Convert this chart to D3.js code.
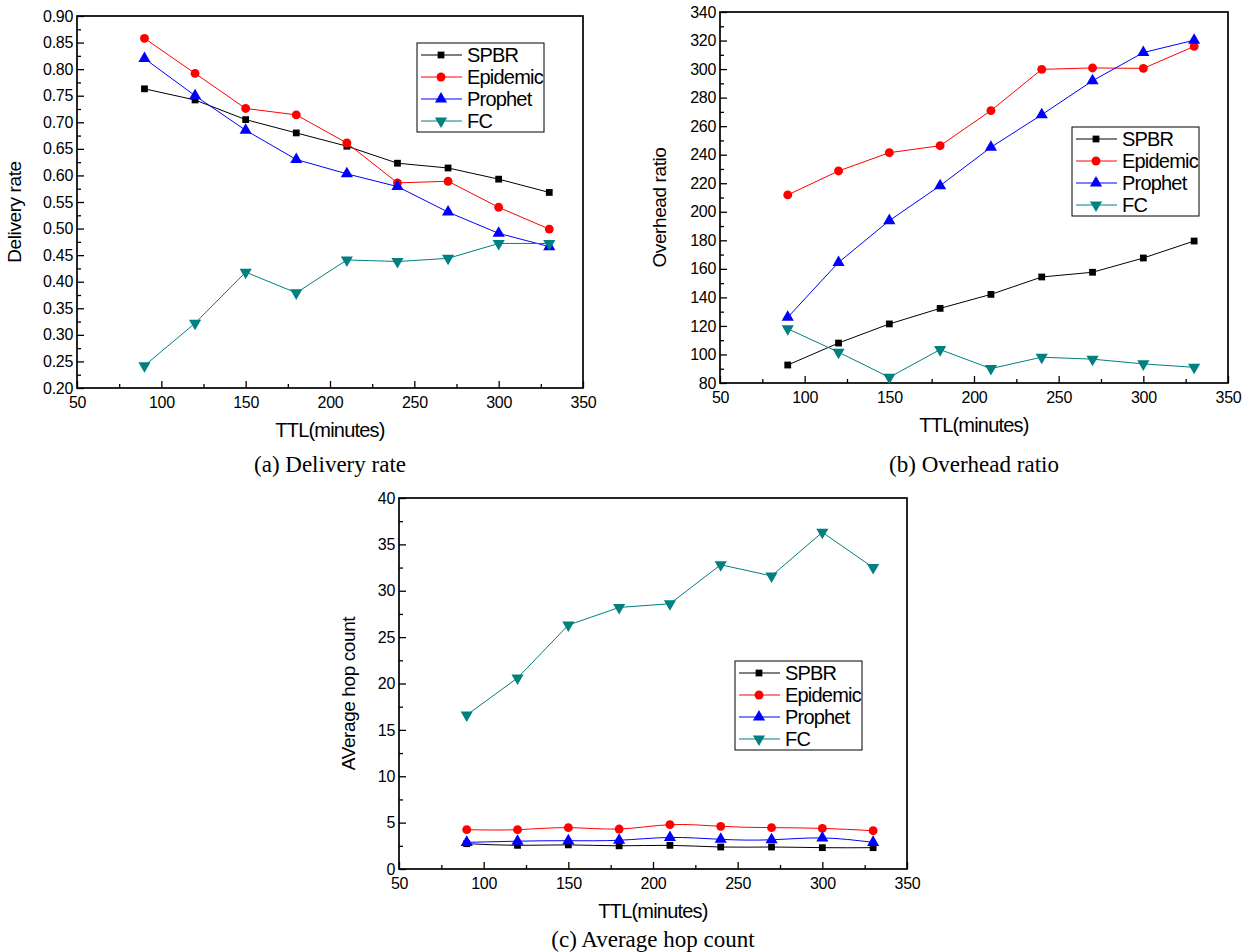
<!DOCTYPE html>
<html>
<head>
<meta charset="utf-8">
<script src="https://cdn.jsdelivr.net/npm/d3@7"></script>
<style>
  body { margin: 0; background: #fff; }
  svg { display: block; }
</style>
</head>
<body>
<script>
// Data
const ttl = [90, 120, 150, 180, 210, 240, 270, 300, 330];
const seriesNames = ["SPBR", "Epidemic", "Prophet", "FC"];
const xTicks = [50, 100, 150, 200, 250, 300, 350];

// (a) delivery rate
const deliverySPBR = [0.763, 0.742, 0.705, 0.680, 0.655, 0.623, 0.614, 0.593, 0.568];
const deliveryEpidemic = [0.858, 0.792, 0.726, 0.714, 0.661, 0.586, 0.589, 0.540, 0.499];
const deliveryProphet = [0.820, 0.750, 0.685, 0.630, 0.603, 0.579, 0.531, 0.491, 0.466];
const deliveryFC = [0.242, 0.322, 0.418, 0.379, 0.441, 0.438, 0.444, 0.472, 0.472];
const deliveryTicks = [0.20, 0.25, 0.30, 0.35, 0.40, 0.45, 0.50, 0.55, 0.60, 0.65, 0.70, 0.75, 0.80, 0.85, 0.90];

// (b) overhead ratio
const overheadSPBR = [92.6, 108, 121.4, 132.3, 142.1, 154.3, 157.6, 167.6, 179.5];
const overheadEpidemic = [211.8, 228.6, 241.4, 246.3, 270.9, 299.8, 300.8, 300.5, 315.9];
const overheadProphet = [126, 164.5, 193.8, 218.3, 245.2, 268, 291.8, 311.6, 320.2];
const overheadFC = [118, 101.6, 84, 103.4, 90.1, 98.1, 96.7, 93.4, 91];
const overheadTicks = [80, 100, 120, 140, 160, 180, 200, 220, 240, 260, 280, 300, 320, 340];

// (c) average hop count
const hopSPBR = [2.73, 2.55, 2.6, 2.5, 2.55, 2.37, 2.37, 2.3, 2.3];
const hopEpidemic = [4.24, 4.24, 4.46, 4.31, 4.78, 4.6, 4.46, 4.38, 4.13];
const hopProphet = [2.87, 3.0, 3.05, 3.1, 3.4, 3.2, 3.15, 3.35, 2.87];
const hopFC = [16.6, 20.6, 26.3, 28.2, 28.6, 32.8, 31.6, 36.3, 32.5];
const hopTicks = [0, 5, 10, 15, 20, 25, 30, 35, 40];

const colors = ["#000000", "#ff0000", "#0000ff", "#008080"];
const symbols = [d3.symbolSquare, d3.symbolCircle, d3.symbolTriangle, d3.symbolTriangle];
const symbolSizes = [46, 62, 64, 64];
const symbolRot = [0, 0, 0, 180];

const W = 1245, H = 952;
const svg = d3.select("body").append("svg").attr("width", W).attr("height", H);

const font = "Arial, 'Liberation Sans', sans-serif";
const serif = "'Times New Roman', 'Liberation Serif', serif";

function marker(g, i, x, y) {
  g.append("path")
    .attr("d", d3.symbol().type(symbols[i]).size(symbolSizes[i])())
    .attr("transform", `translate(${x},${y}) rotate(${symbolRot[i]})`)
    .attr("fill", colors[i]);
}

function drawPanel(p) {
  const g = svg.append("g");
  const x = d3.scaleLinear().domain([50, 350]).range([p.left, p.right]);
  const y = d3.scaleLinear().domain(p.yDomain).range([p.bottom, p.top]);

  // ticks point inward, minor ticks halfway between labels
  const xMinor = d3.range(75, 350, 50);
  const yStep = p.yTicks[1] - p.yTicks[0];
  const yMinor = p.yTicks.slice(0, -1).map(v => v + yStep / 2);

  const xAxis = g.append("g").attr("transform", `translate(0,${p.bottom})`)
    .call(d3.axisBottom(x).tickValues(xTicks).tickSize(-7).tickFormat(d3.format("d")));
  g.append("g").attr("transform", `translate(0,${p.bottom})`)
    .call(d3.axisBottom(x).tickValues(xMinor).tickSize(-4).tickFormat(""));
  const yAxis = g.append("g").attr("transform", `translate(${p.left},0)`)
    .call(d3.axisLeft(y).tickValues(p.yTicks).tickSize(-7).tickFormat(p.yFormat));
  g.append("g").attr("transform", `translate(${p.left},0)`)
    .call(d3.axisLeft(y).tickValues(yMinor).tickSize(-4).tickFormat(""));

  g.selectAll(".domain").remove();
  g.selectAll(".tick line").attr("stroke", "#000").attr("stroke-width", 1.3);
  xAxis.selectAll("text").attr("y", 9).attr("font-size", 16).attr("font-family", font)
    .attr("letter-spacing", -0.3).attr("fill", "#000");
  yAxis.selectAll("text").attr("x", -4).attr("font-size", 16).attr("font-family", font)
    .attr("letter-spacing", -0.3).attr("fill", "#000");

  // frame
  g.append("rect")
    .attr("x", p.left).attr("y", p.top)
    .attr("width", p.right - p.left).attr("height", p.bottom - p.top)
    .attr("fill", "none").attr("stroke", "#000").attr("stroke-width", 1.7);

  // series
  p.series.forEach((vals, i) => {
    const pts = ttl.map((t, k) => [t, vals[k]]);
    const curve = p.smooth && i < 3 ? d3.curveNatural : d3.curveLinear;
    g.append("path")
      .datum(pts)
      .attr("d", d3.line().x(d => x(d[0])).y(d => y(d[1])).curve(curve))
      .attr("fill", "none").attr("stroke", colors[i]).attr("stroke-width", 1);
    pts.forEach(d => marker(g, i, x(d[0]), y(d[1])));
  });

  // axis titles
  g.append("text")
    .attr("x", (p.left + p.right) / 2).attr("y", p.bottom + 49)
    .attr("text-anchor", "middle").attr("font-size", 20).attr("font-family", font)
    .attr("letter-spacing", -0.8)
    .text("TTL(minutes)");
  g.append("text")
    .attr("transform", `translate(${p.left - p.yTitleOff},${(p.top + p.bottom) / 2 + 10}) rotate(-90)`)
    .attr("text-anchor", "middle").attr("font-size", 19).attr("font-family", font)
    .attr("letter-spacing", -0.4)
    .text(p.yTitle);

  // caption
  g.append("text")
    .attr("x", (p.left + p.right) / 2).attr("y", p.captionY)
    .attr("text-anchor", "middle").attr("font-size", 23).attr("font-family", serif)
    .text(p.caption);

  // legend
  const lg = g.append("g").attr("transform", `translate(${p.legend[0]},${p.legend[1]})`);
  lg.append("rect").attr("width", 127).attr("height", 89)
    .attr("fill", "#fff").attr("stroke", "#000").attr("stroke-width", 1);
  seriesNames.forEach((name, i) => {
    const ry = 12 + i * 22;
    lg.append("line").attr("x1", 4).attr("x2", 45).attr("y1", ry).attr("y2", ry)
      .attr("stroke", colors[i]).attr("stroke-width", 1);
    marker(lg, i, 24, ry);
    lg.append("text").attr("x", 50).attr("y", ry).attr("dy", "0.36em")
      .attr("font-size", 20).attr("font-family", font).attr("letter-spacing", -0.8)
      .text(name);
  });
}

drawPanel({
  left: 77, right: 583, top: 16, bottom: 388,
  yDomain: [0.20, 0.90], yTicks: deliveryTicks, yFormat: d3.format(".2f"),
  series: [deliverySPBR, deliveryEpidemic, deliveryProphet, deliveryFC],
  yTitle: "Delivery rate", yTitleOff: 56,
  caption: "(a) Delivery rate", captionY: 472,
  legend: [417, 43], smooth: false
});

drawPanel({
  left: 720, right: 1228, top: 12, bottom: 383,
  yDomain: [80, 340], yTicks: overheadTicks, yFormat: d3.format("d"),
  series: [overheadSPBR, overheadEpidemic, overheadProphet, overheadFC],
  yTitle: "Overhead ratio", yTitleOff: 54,
  caption: "(b) Overhead ratio", captionY: 472,
  legend: [1072, 127], smooth: false
});

drawPanel({
  left: 399, right: 907, top: 498, bottom: 869,
  yDomain: [0, 40], yTicks: hopTicks, yFormat: d3.format("d"),
  series: [hopSPBR, hopEpidemic, hopProphet, hopFC],
  yTitle: "AVerage hop count", yTitleOff: 44,
  caption: "(c) Average hop count", captionY: 947,
  legend: [735, 661], smooth: true
});
</script>
</body>
</html>
